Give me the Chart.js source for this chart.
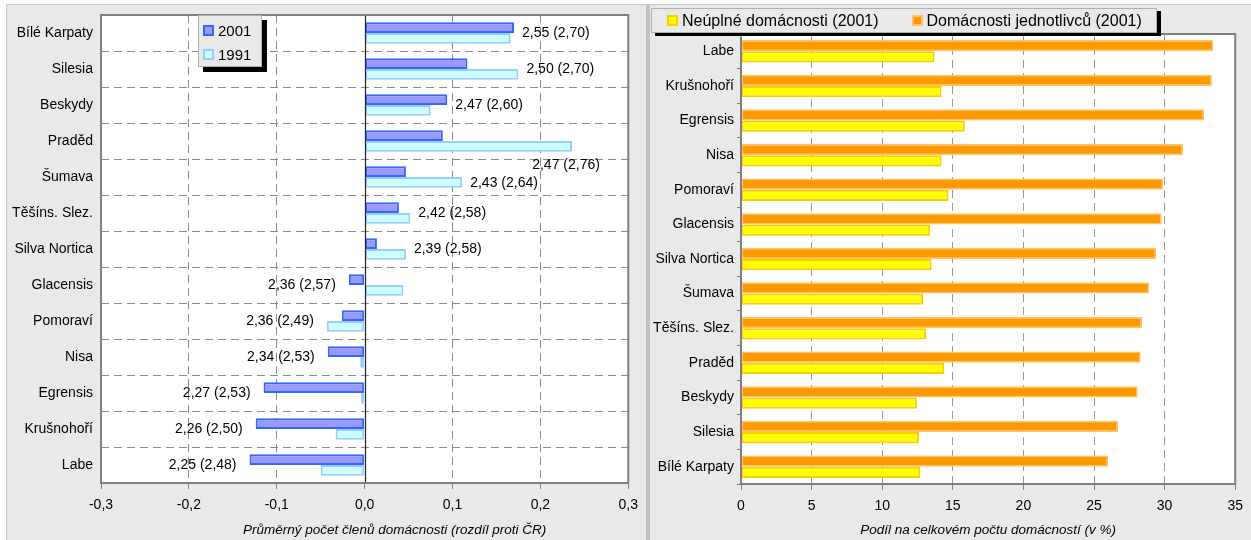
<!DOCTYPE html>
<html>
<head>
<meta charset="utf-8">
<script src="https://cdn.jsdelivr.net/npm/chart.js@4.4.0/dist/chart.umd.min.js"></script>
<style>
	body { margin: 0; width: 1251px; height: 540px; background: #fff; overflow: hidden; position: relative; font-family: "Liberation Sans", Arial, sans-serif; }
	.panel { position: absolute; top: 4px; height: 536px; background: #e9e9e9; }
	#leftPanel { left: 6px; width: 640px; border-top: 1px solid #c8c8c8; border-left: 1px solid #c8c8c8; box-sizing: border-box; }
	#sep { position: absolute; left: 646px; top: 4px; width: 4px; height: 536px; background: #c2c2c2; }
	#rightPanel { left: 650px; width: 601px; border-top: 1px solid #c8c8c8; box-sizing: border-box; }
	canvas { position: absolute; }
	#leftChart { left: 8px; top: 5px; }
	#rightChart { left: 652px; top: 5px; }
	.legend { position: absolute; background: #e9e9e9; border: 1px solid #b0b0b0; color: #000; box-sizing: border-box; }
	#leftLegend { left: 198px; top: 15px; width: 64px; height: 52px; box-shadow: 5px 5px 0 #000; padding: 2px 0 0 4px; font-size: 15px; }
	#leftLegend .item { height: 24px; display: flex; align-items: center; }
	#rightLegend { left: 651px; top: 8px; width: 506px; height: 25px; box-shadow: 4px 3px 0 #000; padding-left: 15px; font-size: 16px; display: flex; align-items: center; gap: 33px; }
	#rightLegend .item { display: flex; align-items: center; }
	.sw { display: inline-block; width: 7px; height: 7px; border: 2px solid; margin-right: 4px; }
	#rightLegend .sw { width: 7px; height: 7px; margin-right: 4px; }
</style>
</head>
<body>
<div id="leftPanel" class="panel"></div>
<div id="sep"></div>
<div id="rightPanel" class="panel"></div>
<canvas id="leftChart" width="638" height="535"></canvas>
<canvas id="rightChart" width="599" height="535"></canvas>
<div id="leftLegend" class="legend"></div>
<div id="rightLegend" class="legend"></div>
<script>
"use strict"

// left chart - average household size, difference against CR
const regionsLeft = ["Bílé Karpaty", "Silesia", "Beskydy", "Praděd", "Šumava", "Těšíns. Slez.", "Silva Nortica", "Glacensis", "Pomoraví", "Nisa", "Egrensis", "Krušnohoří", "Labe"]
const diff2001 = [0.170, 0.117, 0.094, 0.089, 0.047, 0.039, 0.014, -0.018, -0.026, -0.042, -0.115, -0.124, -0.131]
const diff1991 = [0.166, 0.175, 0.075, 0.236, 0.111, 0.052, 0.047, 0.044, -0.043, -0.005, -0.004, -0.033, -0.050]
const avg2001 = [2.55, 2.50, 2.47, 2.47, 2.43, 2.42, 2.39, 2.36, 2.36, 2.34, 2.27, 2.26, 2.25]
const avg1991 = [2.70, 2.70, 2.60, 2.76, 2.64, 2.58, 2.58, 2.57, 2.49, 2.53, 2.53, 2.50, 2.48]

// right chart - share of households (%)
const regionsRight = ["Labe", "Krušnohoří", "Egrensis", "Nisa", "Pomoraví", "Glacensis", "Silva Nortica", "Šumava", "Těšíns. Slez.", "Praděd", "Beskydy", "Silesia", "Bílé Karpaty"]
const singleHouseholds = [33.45, 33.35, 32.8, 31.3, 29.9, 29.8, 29.4, 28.9, 28.4, 28.3, 28.1, 26.7, 26.0]
const incompleteHouseholds = [13.7, 14.2, 15.85, 14.2, 14.7, 13.4, 13.5, 12.9, 13.1, 14.4, 12.45, 12.6, 12.7]

const FONT = "'Liberation Sans', Arial, sans-serif"
Chart.defaults.font.family = FONT
Chart.defaults.color = "#000"

const comma = (v, d) => v.toFixed(d).replace(".", ",").replace(/^-0,0+$/, "0,0")

const plotFrame = {
	id: "plotFrame",
	beforeDraw(chart) {
		const a = chart.chartArea
		chart.ctx.save()
		chart.ctx.fillStyle = "#fff"
		chart.ctx.fillRect(a.left, a.top, a.right - a.left, a.bottom - a.top)
		chart.ctx.restore()
	},
	afterDraw(chart) {
		const a = chart.chartArea
		const ctx = chart.ctx
		ctx.save()
		ctx.strokeStyle = "#808080"
		ctx.lineWidth = 2
		ctx.strokeRect(a.left, a.top, a.right - a.left, a.bottom - a.top)
		ctx.restore()
	},
}

const zeroLine = {
	id: "zeroLine",
	afterDatasetsDraw(chart) {
		const {ctx, chartArea: a, scales: {x}} = chart
		const px = Math.round(x.getPixelForValue(0)) + 0.5
		ctx.save()
		ctx.strokeStyle = "#222"
		ctx.lineWidth = 1.2
		ctx.beginPath()
		ctx.moveTo(px, a.top)
		ctx.lineTo(px, a.bottom)
		ctx.stroke()
		ctx.restore()
	},
}

// "2,55 (2,70)" labels next to the bars, one that doesn't fit goes under its bar
const valueLabels = {
	id: "valueLabels",
	afterDatasetsDraw(chart) {
		const {ctx, chartArea: a, scales: {x, y}} = chart
		ctx.save()
		ctx.font = "14px " + FONT
		ctx.fillStyle = "#000"
		ctx.textBaseline = "middle"
		let pushed = false
		regionsLeft.forEach((name, i) => {
			const text = comma(avg2001[i], 2) + " (" + comma(avg1991[i], 2) + ")"
			let cy = y.getPixelForValue(i)
			if (pushed) cy += 6
			pushed = false
			const w = ctx.measureText(text).width
			if (diff2001[i] >= 0) {
				const end = x.getPixelForValue(Math.max(diff2001[i], diff1991[i]))
				if (end + 8 + w > a.right) {
					ctx.textAlign = "center"
					ctx.fillText(text, end - 6, cy + 24)
					pushed = true
				} else {
					ctx.textAlign = "left"
					ctx.fillText(text, end + 8, cy)
				}
			} else {
				const start = x.getPixelForValue(Math.min(diff2001[i], diff1991[i]))
				ctx.textAlign = "right"
				ctx.fillText(text, start - 13, cy)
			}
		})
		ctx.restore()
	},
}

// axis title of the left chart sits a bit right of the plot centre
const leftAxisTitle = {
	id: "leftAxisTitle",
	afterDraw(chart) {
		const {ctx, chartArea: a} = chart
		ctx.save()
		ctx.font = "italic 13.5px " + FONT
		ctx.fillStyle = "#000"
		ctx.textAlign = "center"
		ctx.textBaseline = "middle"
		ctx.fillText("Průměrný počet členů domácnosti (rozdíl proti ČR)", (a.left + a.right) / 2 + 30, 525)
		ctx.restore()
	},
}

const fixY = (w) => (s) => {
	s.width = w
	s.paddingTop = 0
	s.paddingBottom = 0
}

const leftChart = new Chart(document.getElementById("leftChart"), {
	type: "bar",
	data: {
		labels: regionsLeft,
		datasets: [
			{
				label: "2001",
				data: diff2001,
				backgroundColor: "#9999ff",
				borderColor: "#3366ff",
				borderWidth: 2,
				borderSkipped: false,
			},
			{
				label: "1991",
				data: diff1991,
				backgroundColor: "#ccffff",
				borderColor: "#99ccff",
				borderWidth: 2,
				borderSkipped: false,
			},
		],
	},
	options: {
		indexAxis: "y",
		responsive: false,
		animation: false,
		devicePixelRatio: 1,
		categoryPercentage: 0.6,
		barPercentage: 1.0,
		layout: { padding: { left: 0, right: 13, top: 10, bottom: 0 } },
		plugins: { legend: { display: false }, tooltip: { enabled: false } },
		scales: {
			x: {
				min: -0.3,
				max: 0.3,
				afterFit: (s) => { s.height = 57 },
				ticks: { stepSize: 0.1, font: { size: 14 }, padding: 8, callback: (v) => comma(v, 1) },
				grid: {
					color: (c) => (c.tick && Math.abs(c.tick.value) < 1e-9 ? "rgba(0,0,0,0)" : "#8a8a8a"),
					tickColor: "#808080",
					tickLength: 6,
				},
				border: { display: false, dash: [8, 5] },
			},
			y: {
				afterFit: fixY(93),
				ticks: { font: { size: 14 }, padding: 8 },
				grid: { color: "#8a8a8a", drawTicks: false },
				border: { display: false, dash: [8, 5] },
			},
		},
	},
	plugins: [plotFrame, zeroLine, valueLabels, leftAxisTitle],
})

const rightChart = new Chart(document.getElementById("rightChart"), {
	type: "bar",
	data: {
		labels: regionsRight,
		datasets: [
			{
				label: "Domácnosti jednotlivců (2001)",
				data: singleHouseholds,
				backgroundColor: "#ff9900",
				borderColor: "#ffc266",
				borderWidth: 1.5,
				borderSkipped: false,
			},
			{
				label: "Neúplné domácnosti (2001)",
				data: incompleteHouseholds,
				backgroundColor: "#ffff00",
				borderColor: "#ffcc00",
				borderWidth: 2,
				borderSkipped: false,
			},
		],
	},
	options: {
		indexAxis: "y",
		responsive: false,
		animation: false,
		devicePixelRatio: 1,
		categoryPercentage: 0.65,
		barPercentage: 1.0,
		layout: { padding: { left: 0, right: 14, top: 29, bottom: 0 } },
		plugins: { legend: { display: false }, tooltip: { enabled: false } },
		scales: {
			x: {
				min: 0,
				max: 35,
				afterFit: (s) => { s.height = 56 },
				ticks: { stepSize: 5, font: { size: 14 }, padding: 8 },
				grid: { color: "#9a9a9a", tickColor: "#808080", tickLength: 6 },
				border: { display: false, dash: [8, 5] },
				title: {
					display: true,
					text: "Podíl na celkovém počtu domácností (v %)",
					font: { size: 13.5, style: "italic" },
					padding: { top: 0, bottom: 2 },
				},
			},
			y: {
				afterFit: fixY(89),
				ticks: { font: { size: 14 }, padding: 3 },
				grid: { drawOnChartArea: false, color: "#808080", tickLength: 4 },
				border: { display: false },
			},
		},
	},
	plugins: [plotFrame],
})

function buildLegend(el, chart, reverse) {
	let sets = chart.data.datasets.slice()
	if (reverse) sets.reverse()
	sets.forEach((ds) => {
		const item = document.createElement("div")
		item.className = "item"
		item.innerHTML = `<span class="sw" style="background:${ds.backgroundColor};border-color:${ds.borderColor}"></span>${ds.label}`
		el.appendChild(item)
	})
}

buildLegend(document.getElementById("leftLegend"), leftChart, false)
buildLegend(document.getElementById("rightLegend"), rightChart, true)
</script>
</body>
</html>
